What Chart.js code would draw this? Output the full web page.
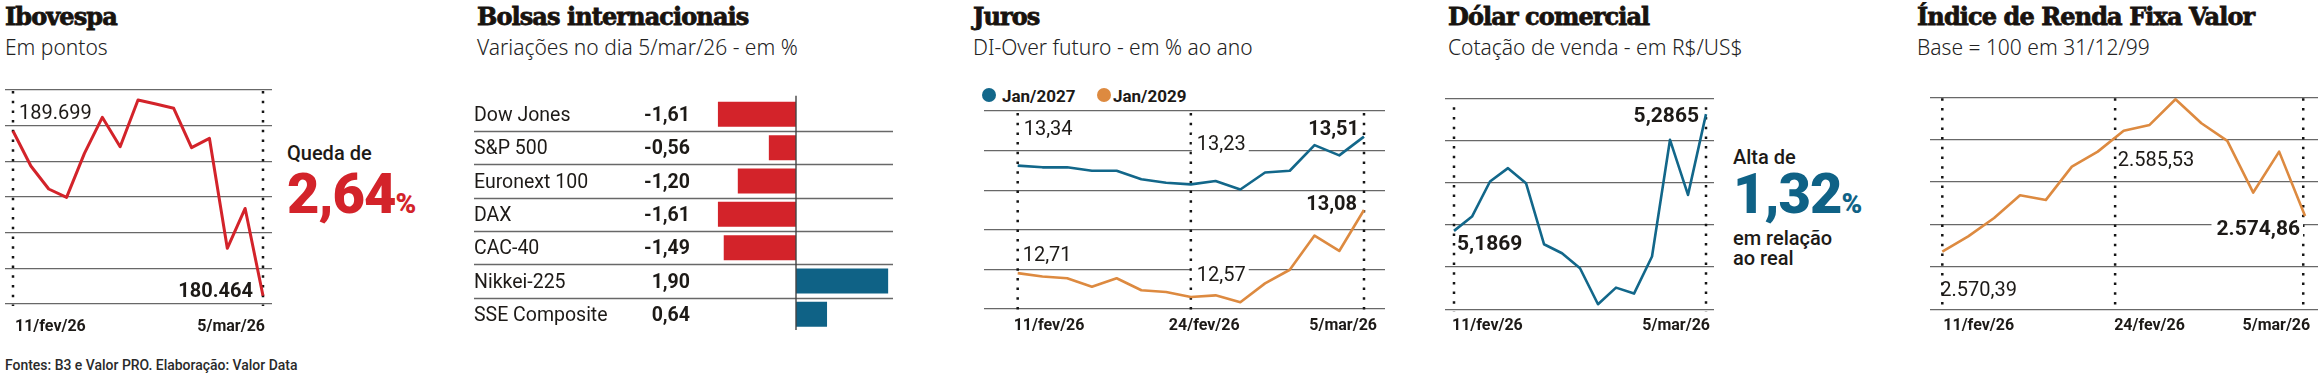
<!DOCTYPE html>
<html>
<head>
<meta charset="utf-8">
<script src="https://cdn.jsdelivr.net/npm/chart.js@4.4.1/dist/chart.umd.min.js"></script>
<style>
  body { margin: 0; background: #fff; width: 2318px; height: 374px; position: relative; overflow: hidden; font-family: Roboto, "Noto Sans", sans-serif; color: #1d1a17; }
  .tit { position: absolute; top: 4.7px; font-family: "DejaVu Serif", serif; font-weight: bold; font-size: 24px; line-height: 1; letter-spacing: -0.9px; color: #18130f; -webkit-text-stroke: 0.8px #18130f; white-space: nowrap; }
  .sub { position: absolute; top: 36.5px; font-family: "Noto Sans", Roboto, sans-serif; font-size: 21px; line-height: 1; font-weight: 300; color: #222; white-space: nowrap; }
  .txt { position: absolute; font-size: 20px; line-height: 20px; font-weight: 500; color: #1d1a17; white-space: nowrap; }
  .big { position: absolute; font-size: 56px; line-height: 1; font-weight: 900; letter-spacing: -1px; white-space: nowrap; }
  .big span { font-size: 28px; letter-spacing: 0; }
  .leg { position: absolute; top: 87.7px; font-size: 17px; line-height: 1; font-weight: bold; color: #1d1a17; }
  .bola { position: absolute; top: 88px; width: 14px; height: 14px; border-radius: 50%; }
  .fonte { position: absolute; left: 5px; top: 358px; font-size: 15px; line-height: 1; font-weight: 500; color: #2a2a2a; transform: scaleX(0.93); transform-origin: left top; white-space: nowrap; }
  canvas { position: absolute; }
</style>
</head>
<body>

<div class="tit" style="left:5px">Ibovespa</div>
<div class="sub" style="left:5px">Em pontos</div>
<div class="txt" style="left:287px; top:143px">Queda de</div>
<div class="big" style="left:287px; top:166px; color:#d3232a">2,64<span>%</span></div>

<div class="tit" style="left:477px">Bolsas internacionais</div>
<div class="sub" style="left:477px">Variações no dia 5/mar/26 - em %</div>

<div class="tit" style="left:973px">Juros</div>
<div class="sub" style="left:973px">DI-Over futuro - em % ao ano</div>
<div class="bola" style="left:982px; background:#12678a"></div>
<div class="leg" style="left:1002px">Jan/2027</div>
<div class="bola" style="left:1097px; background:#dd8a40"></div>
<div class="leg" style="left:1113px">Jan/2029</div>

<div class="tit" style="left:1448px">Dólar comercial</div>
<div class="sub" style="left:1448px">Cotação de venda - em R$/US$</div>
<div class="txt" style="left:1733px; top:147px">Alta de</div>
<div class="big" style="left:1733px; top:166px; color:#0f6286">1,32<span>%</span></div>
<div class="txt" style="left:1733px; top:227.5px">em relação<br>ao real</div>

<div class="tit" style="left:1917px">Índice de Renda Fixa Valor</div>
<div class="sub" style="left:1917px">Base = 100 em 31/12/99</div>

<div class="fonte">Fontes: B3 e Valor PRO. Elaboração: Valor Data</div>

<canvas id="cIbov" width="285" height="265" style="left:0px; top:80px"></canvas>
<canvas id="cBolsas" width="430" height="245" style="left:470px; top:90px"></canvas>
<canvas id="cJuros" width="420" height="265" style="left:975px; top:80px"></canvas>
<canvas id="cDolar" width="280" height="265" style="left:1440px; top:80px"></canvas>
<canvas id="cIrf" width="393" height="265" style="left:1925px; top:80px"></canvas>

<script>
// pregões de 11/fev/26 a 5/mar/26
const dias = ['11/fev', '12/fev', '13/fev', '18/fev', '19/fev', '20/fev', '23/fev', '24/fev', '25/fev', '26/fev', '27/fev', '2/mar', '3/mar', '4/mar', '5/mar'];
const rotulosDatas = ['11/fev/26', '24/fev/26', '5/mar/26'];

const ibovespa = [189699, 187738, 186449, 185981, 188449, 190467, 188822, 191439, 191215, 190972, 188766, 189290, 183121, 185357, 180464];
const jan2027 = [13.34, 13.33, 13.33, 13.31, 13.31, 13.26, 13.24, 13.23, 13.25, 13.20, 13.30, 13.31, 13.46, 13.40, 13.51];
const jan2029 = [12.71, 12.69, 12.68, 12.63, 12.68, 12.61, 12.60, 12.57, 12.58, 12.54, 12.65, 12.73, 12.93, 12.84, 13.08];
const dolar = [5.1869, 5.1991, 5.2290, 5.2404, 5.2276, 5.1755, 5.1678, 5.1550, 5.1243, 5.1385, 5.1334, 5.1650, 5.2646, 5.2176, 5.2865];
const irfValor = [2570.39, 2572.30, 2574.60, 2577.45, 2576.87, 2581.04, 2582.92, 2585.53, 2586.27, 2589.48, 2586.48, 2584.26, 2577.79, 2582.92, 2574.86];

const bolsas = ['Dow Jones', 'S&P 500', 'Euronext 100', 'DAX', 'CAC-40', 'Nikkei-225', 'SSE Composite'];
const variacoes = [-1.61, -0.56, -1.20, -1.61, -1.49, 1.90, 0.64];

const VERMELHO = '#d3232a';
const AZUL = '#12678a';
const AZUL_BARRA = '#0f6286';
const LARANJA = '#dd8a40';
const GRADE = '#686868';
const TEXTO = '#1d1a17';

// número no formato brasileiro
function fmt(v, casas) {
  const partes = Math.abs(v).toFixed(casas).split('.');
  const inteiro = partes[0].replace(/\B(?=(\d{3})+(?!\d))/g, '.');
  return (v < 0 ? '-' : '') + inteiro + (partes[1] ? ',' + partes[1] : '');
}

function fonte(negrito, tam) {
  return (negrito ? 'bold ' : '') + tam + 'px Roboto, "Noto Sans", sans-serif';
}

function fazerAnotacoes(o) {
  function posicao(chart, r) {
    const p = chart.getDatasetMeta(r.ds).data[r.i];
    return { x: p.x + r.dx, y: p.y + r.dy };
  }
  return {
    id: 'anotacoes',
    beforeDatasetsDraw(chart) {
      const { ctx, chartArea, scales: { x } } = chart;
      ctx.save();
      ctx.strokeStyle = '#141414';
      ctx.lineWidth = 2.5;
      ctx.setLineDash([2.5, 7.2]);
      o.marcas.forEach(m => {
        const px = x.getPixelForValue(m);
        ctx.beginPath();
        ctx.moveTo(px, chartArea.top + o.inicio);
        ctx.lineTo(px, chartArea.bottom + 2);
        ctx.stroke();
      });
      ctx.setLineDash([]);
      // fundo branco sob alguns rótulos (corta a grade)
      o.rotulos.filter(r => r.fundo).forEach(r => {
        const p = posicao(chart, r);
        ctx.font = fonte(r.negrito, r.tam || 20);
        const w = ctx.measureText(r.txt).width;
        const x0 = r.align === 'right' ? p.x - w : p.x;
        ctx.fillStyle = '#fff';
        ctx.fillRect(x0 - 5, p.y - 17, w + 8, 21);
      });
      ctx.restore();
    },
    afterDatasetsDraw(chart) {
      const { ctx, chartArea, scales: { x } } = chart;
      ctx.save();
      ctx.fillStyle = TEXTO;
      ctx.textBaseline = 'alphabetic';
      o.rotulos.forEach(r => {
        const p = posicao(chart, r);
        ctx.font = fonte(r.negrito, r.tam || 20);
        ctx.textAlign = r.align || 'left';
        ctx.fillText(r.txt, p.x, p.y);
      });
      ctx.font = fonte(true, 16);
      o.eixo.forEach(e => {
        ctx.textAlign = e.align || 'left';
        ctx.fillText(e.txt, x.getPixelForValue(e.m) + e.dx, chartArea.bottom + o.base);
      });
      ctx.restore();
    }
  };
}

function graficoLinha(id, series, o) {
  return new Chart(document.getElementById(id), {
    type: 'line',
    data: {
      labels: dias,
      datasets: series.map(s => ({
        data: s.valores.map((v, i) => ({ x: i, y: v })),
        borderColor: s.cor,
        borderWidth: s.largura || 2.6,
        pointRadius: 0,
        tension: 0,
        borderJoinStyle: 'round'
      }))
    },
    options: {
      responsive: false,
      animation: false,
      events: [],
      layout: { padding: o.padding },
      scales: {
        x: { type: 'linear', display: false, min: o.xMin, max: o.xMax },
        y: {
          min: o.yMin, max: o.yMax,
          ticks: { display: false, count: o.linhas },
          border: { display: false },
          grid: { color: GRADE, lineWidth: 1.3, drawTicks: false }
        }
      },
      plugins: { legend: { display: false }, tooltip: { enabled: false } }
    },
    plugins: [fazerAnotacoes(o)]
  });
}

// Ibovespa
graficoLinha('cIbov', [{ valores: ibovespa, cor: VERMELHO, largura: 3 }], {
  padding: { left: 5, right: 13, top: 10, bottom: 41 },
  xMin: -0.448, xMax: 14.504, yMin: 180000, yMax: 192000, linhas: 7,
  marcas: [0, 14], inicio: 1, base: 26.7,
  rotulos: [
    { ds: 0, i: 0, txt: fmt(ibovespa[0], 0), dx: 6, dy: -12 },
    { ds: 0, i: 14, txt: fmt(ibovespa[14], 0), negrito: true, align: 'right', dx: -10, dy: 1 }
  ],
  eixo: [
    { m: 0, txt: rotulosDatas[0], dx: 2 },
    { m: 14, txt: rotulosDatas[2], dx: 2, align: 'right' }
  ]
});

// Juros
graficoLinha('cJuros', [{ valores: jan2027, cor: AZUL }, { valores: jan2029, cor: LARANJA }], {
  padding: { left: 9, right: 10, top: 31, bottom: 36 },
  xMin: -1.362, xMax: 14.849, yMin: 12.5, yMax: 13.66, linhas: 6,
  marcas: [0, 7, 14], inicio: 2, base: 21,
  rotulos: [
    { ds: 0, i: 0, txt: fmt(jan2027[0], 2), dx: 6, dy: -31 },
    { ds: 0, i: 7, txt: fmt(jan2027[7], 2), dx: 6, dy: -34, fundo: true },
    { ds: 0, i: 14, txt: fmt(jan2027[14], 2), negrito: true, align: 'right', dx: -5, dy: -1.7 },
    { ds: 1, i: 0, txt: fmt(jan2029[0], 2), dx: 5, dy: -12 },
    { ds: 1, i: 7, txt: fmt(jan2029[7], 2), dx: 6, dy: -15.6, fundo: true },
    { ds: 1, i: 14, txt: fmt(jan2029[14], 2), negrito: true, align: 'right', dx: -7, dy: 0 }
  ],
  eixo: [
    { m: 0, txt: rotulosDatas[0], dx: -4 },
    { m: 7, txt: rotulosDatas[1], dx: -22 },
    { m: 14, txt: rotulosDatas[2], dx: 13, align: 'right' }
  ]
});

// Dólar
graficoLinha('cDolar', [{ valores: dolar, cor: AZUL }], {
  padding: { left: 5, right: 6, top: 18.3, bottom: 35.7 },
  xMin: -0.5, xMax: 14.444, yMin: 5.12, yMax: 5.30, linhas: 6,
  marcas: [0, 14], inicio: 9, base: 21,
  rotulos: [
    { ds: 0, i: 0, txt: fmt(dolar[0], 4), negrito: true, tam: 21, dx: 3, dy: 19 },
    { ds: 0, i: 14, txt: fmt(dolar[14], 4), negrito: true, tam: 21, align: 'right', dx: -7, dy: 7.7 }
  ],
  eixo: [
    { m: 0, txt: rotulosDatas[0], dx: -2 },
    { m: 14, txt: rotulosDatas[2], dx: 4, align: 'right' }
  ]
});

// IRF-M Valor
graficoLinha('cIrf', [{ valores: irfValor, cor: LARANJA }], {
  padding: { left: 5, right: 0, top: 17.3, bottom: 35.7 },
  xMin: -0.475, xMax: 14.5, yMin: 2563.16, yMax: 2589.73, linhas: 6,
  marcas: [0, 6.67, 13.93], inicio: 1, base: 21,
  rotulos: [
    { ds: 0, i: 7, txt: fmt(irfValor[7], 2), dx: -6, dy: 35 },
    { ds: 0, i: 14, txt: fmt(irfValor[14], 2), negrito: true, tam: 21, align: 'right', dx: -5, dy: 18.6, fundo: true },
    { ds: 0, i: 0, txt: fmt(irfValor[0], 2), dx: -2, dy: 44 }
  ],
  eixo: [
    { m: 0, txt: rotulosDatas[0], dx: 1 },
    { m: 6.67, txt: rotulosDatas[1], dx: -1 },
    { m: 13.93, txt: rotulosDatas[2], dx: 7, align: 'right' }
  ]
});

// Bolsas internacionais
const tabela = {
  id: 'tabela',
  beforeDatasetsDraw(chart) {
    const { ctx, chartArea, scales: { y } } = chart;
    ctx.save();
    ctx.strokeStyle = GRADE;
    ctx.lineWidth = 1.3;
    for (let i = 0; i < bolsas.length - 1; i++) {
      const py = Math.round((y.getPixelForValue(i) + y.getPixelForValue(i + 1)) / 2) + 0.5;
      ctx.beginPath();
      ctx.moveTo(4, py);
      ctx.lineTo(chartArea.right, py);
      ctx.stroke();
    }
    ctx.restore();
  },
  afterDatasetsDraw(chart) {
    const { ctx, chartArea, scales: { x, y } } = chart;
    ctx.save();
    ctx.strokeStyle = '#444';
    ctx.lineWidth = 1.4;
    const zero = x.getPixelForValue(0);
    ctx.beginPath();
    ctx.moveTo(zero, chartArea.top - 2);
    ctx.lineTo(zero, chartArea.bottom - 1);
    ctx.stroke();
    ctx.fillStyle = TEXTO;
    ctx.textBaseline = 'alphabetic';
    bolsas.forEach((nome, i) => {
      const py = y.getPixelForValue(i) + 6.5;
      ctx.font = fonte(false, 19.5);
      ctx.textAlign = 'left';
      ctx.fillText(nome, 4, py);
      ctx.font = fonte(true, 19.5);
      ctx.textAlign = 'right';
      ctx.fillText(fmt(variacoes[i], 2), chartArea.left - 9, py);
    });
    ctx.restore();
  }
};

new Chart(document.getElementById('cBolsas'), {
  type: 'bar',
  data: {
    labels: bolsas,
    datasets: [{
      data: variacoes,
      backgroundColor: c => c.raw < 0 ? VERMELHO : AZUL_BARRA,
      barPercentage: 0.75,
      categoryPercentage: 1
    }]
  },
  options: {
    indexAxis: 'y',
    responsive: false,
    animation: false,
    events: [],
    layout: { padding: { left: 229, right: 7, top: 7.67, bottom: 4 } },
    scales: {
      x: { display: false, min: -2, max: 2 },
      y: { display: false }
    },
    plugins: { legend: { display: false }, tooltip: { enabled: false } }
  },
  plugins: [tabela]
});
</script>
</body>
</html>
